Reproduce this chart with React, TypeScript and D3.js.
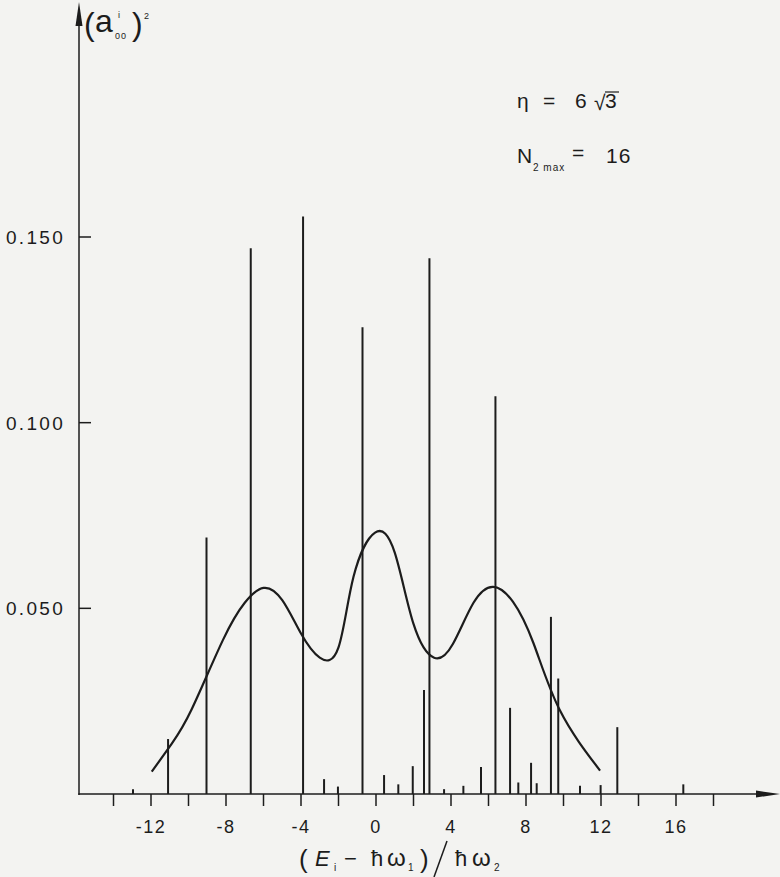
import React from "react";
import * as d3 from "d3";

// Stick spectrum: positions (in units of ħω2) and intensities (a_00^i)^2
const lineE = [-12.96, -11.09, -9.04, -6.68, -3.89, -2.77, -2.03, -0.72, 0.43, 1.19, 1.96, 2.56, 2.85, 3.63, 4.66, 5.6, 6.37, 7.15, 7.59, 8.27, 8.57, 9.33, 9.72, 10.88, 11.98, 12.87, 16.39];
const lineI = [0.0013, 0.0148, 0.0691, 0.147, 0.1555, 0.004, 0.002, 0.1257, 0.0051, 0.0026, 0.0075, 0.028, 0.1443, 0.0013, 0.0022, 0.0073, 0.1071, 0.0232, 0.0031, 0.0084, 0.0029, 0.0477, 0.0311, 0.0022, 0.0024, 0.018, 0.0026];

// Smooth envelope curve
const curveE = [-11.96, -10.9, -9.83, -8.16, -7.0, -6.0, -5.0, -4.0, -3.0, -2.0, -1.2, -0.05, 1.0, 2.0, 3.1, 4.1, 5.2, 6.25, 7.3, 8.4, 9.8, 11.95];
const curveV = [0.006, 0.0135, 0.0228, 0.0415, 0.0515, 0.0555, 0.0522, 0.0432, 0.0367, 0.0395, 0.0585, 0.0704, 0.065, 0.0458, 0.0367, 0.0404, 0.0515, 0.0558, 0.0518, 0.0406, 0.0226, 0.0063];

const xTickValues = [-14, -12, -10, -8, -6, -4, -2, 0, 2, 4, 6, 8, 10, 12, 14, 16, 18];
const xTickLabels = [-12, -8, -4, 0, 4, 8, 12, 16];
const yTickValues = [0.05, 0.1, 0.15];
const yTickLabels = ["0.050", "0.100", "0.150"];

export default function App() {
  const W = 780, H = 877;
  const ink = "#1c1c1c";
  const x = d3.scaleLinear().domain([-14, 18]).range([113.5, 713.5]);
  const y = d3.scaleLinear().domain([0, 0.15]).range([794, 237]);
  const axisX0 = 79;
  const axisY0 = y(0);
  const font = "'Liberation Sans', Arial, sans-serif";

  const pts: [number, number][] = curveE.map((e, i) => [x(e), y(curveV[i])]);
  const path = d3.line().curve(d3.curveNatural)(pts) || "";

  return (
    <svg width={W} height={H} style={{ position: "absolute", left: 0, top: 0 }} xmlns="http://www.w3.org/2000/svg">
      <rect x={0} y={0} width={W} height={H} fill="#f3f3f1" />

      {/* stick lines */}
      {lineE.map((e, i) => (
        <line key={"b" + i} x1={x(e)} x2={x(e)} y1={axisY0} y2={y(lineI[i])} stroke={ink} strokeWidth={2} />
      ))}

      {/* envelope */}
      <path d={path} fill="none" stroke={ink} strokeWidth={2.2} />

      {/* axes */}
      <line x1={axisX0} x2={axisX0} y1={axisY0 + 1} y2={10} stroke={ink} strokeWidth={1.5} />
      <path d={`M${axisX0},2 L${axisX0 - 3.5},26 L${axisX0 + 3.5},26 Z`} fill={ink} />
      <line x1={axisX0 - 0.7} x2={768} y1={axisY0} y2={axisY0} stroke={ink} strokeWidth={1.5} />
      <path d={`M780,${axisY0} L756,${axisY0 - 3.5} L756,${axisY0 + 3.5} Z`} fill={ink} />

      {/* x ticks */}
      {xTickValues.map((t) => (
        <line key={"xt" + t} x1={x(t)} x2={x(t)} y1={axisY0} y2={axisY0 + 12} stroke={ink} strokeWidth={1.5} />
      ))}
      {xTickLabels.map((t) => (
        <text key={"xl" + t} x={x(t)} y={833} textAnchor="middle" fontFamily={font} fontSize={18} letterSpacing={1.5} fill={ink}>
          {t < 0 ? "-" + Math.abs(t) : String(t)}
        </text>
      ))}

      {/* y ticks */}
      {yTickValues.map((t, i) => (
        <g key={"yt" + t}>
          <line x1={axisX0} x2={axisX0 + 12} y1={y(t)} y2={y(t)} stroke={ink} strokeWidth={1.5} />
          <text x={65} y={y(t) + 7} textAnchor="end" fontFamily={font} fontSize={19} letterSpacing={2.3} fill={ink}>
            {yTickLabels[i]}
          </text>
        </g>
      ))}

      {/* y axis title (a_00^i)^2 */}
      <g fontFamily={font} fill={ink}>
        <text x={84} y={35} fontSize={32} fontWeight={300}>(</text>
        <text x={95} y={32} fontSize={32}>a</text>
        <text x={118} y={18} fontSize={9}>i</text>
        <text x={115} y={39} fontSize={9} letterSpacing={1}>00</text>
        <text x={132} y={35} fontSize={32} fontWeight={300}>)</text>
        <text x={144} y={19} fontSize={9}>2</text>
      </g>

      {/* annotations */}
      <g fontFamily={font} fill={ink}>
        <text x={517} y={108} fontSize={21}>η</text>
        <text x={543} y={108} fontSize={21}>=</text>
        <text x={575} y={108} fontSize={21}>6</text>
        <text x={594} y={110} fontSize={21}>√</text>
        <line x1={605} x2={619} y1={92} y2={92} stroke={ink} strokeWidth={1.2} />
        <text x={605} y={108} fontSize={21}>3</text>

        <text x={517} y={163} fontSize={21}>N</text>
        <text x={533} y={171} fontSize={10} letterSpacing={1}>2 max</text>
        <text x={572} y={160} fontSize={21}>=</text>
        <text x={606} y={163} fontSize={21} letterSpacing={1}>16</text>
      </g>

      {/* x axis title */}
      <g fontFamily={font} fill={ink}>
        <text x={299} y={868} fontSize={26} fontWeight={300}>(</text>
        <text x={315} y={866} fontSize={22} fontStyle="italic">E</text>
        <text x={334} y={871} fontSize={10}>i</text>
        <text x={344} y={866} fontSize={22}>−</text>
        <text x={371} y={866} fontSize={22}>ħ</text>
        <text x={387} y={866} fontSize={24}>ω</text>
        <text x={408} y={871} fontSize={10}>1</text>
        <text x={420} y={868} fontSize={26} fontWeight={300}>)</text>
        <line x1={434} x2={447} y1={877} y2={841} stroke={ink} strokeWidth={1.5} />
        <text x={455} y={866} fontSize={22}>ħ</text>
        <text x={472} y={866} fontSize={24}>ω</text>
        <text x={494} y={871} fontSize={10}>2</text>
      </g>
    </svg>
  );
}
